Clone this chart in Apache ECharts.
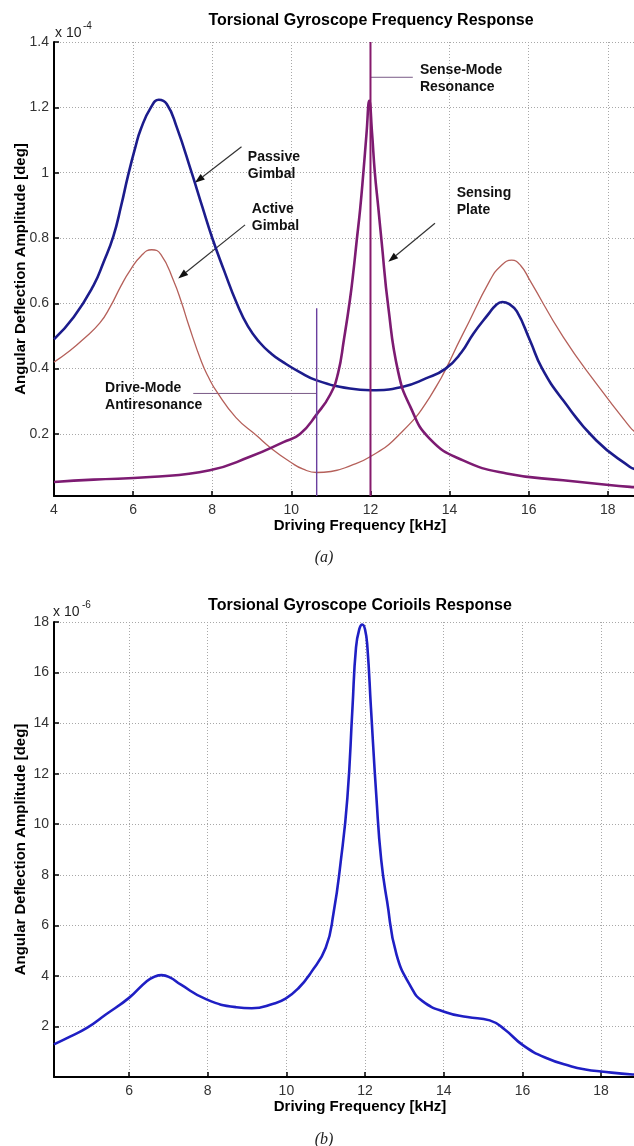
<!DOCTYPE html>
<html>
<head>
<meta charset="utf-8">
<script src="https://cdn.jsdelivr.net/npm/echarts@6/dist/echarts.min.js"></script>
<style>
  html, body { margin: 0; padding: 0; background: #fff; }
  #chart { width: 634px; height: 1146px; }
</style>
</head>
<body>
<div id="chart"></div>
<script>
// ---- data (a): amplitude in units of 1e-4 deg, frequency in kHz
const passiveFreq = [4.0, 4.5, 5.0, 5.25, 5.5, 5.7, 5.87, 6.05, 6.2, 6.45, 6.65, 6.85, 7.1, 7.48, 7.75, 8.0, 8.3, 8.62, 8.9, 9.2, 9.5, 9.79, 10.2, 10.64, 11.48, 12.0, 12.8, 13.4, 13.9, 14.3, 14.6, 15.0, 15.15, 15.33, 15.5, 15.7, 16.03, 16.34, 16.87, 17.71, 18.56, 18.7];
const passiveAmp  = [0.49, 0.558, 0.655, 0.725, 0.805, 0.90, 0.99, 1.075, 1.135, 1.2, 1.223, 1.21, 1.14, 1.0, 0.895, 0.8, 0.70, 0.6, 0.53, 0.48, 0.445, 0.42, 0.39, 0.364, 0.339, 0.334, 0.344, 0.37, 0.40, 0.45, 0.507, 0.57, 0.592, 0.604, 0.598, 0.575, 0.487, 0.40, 0.303, 0.18, 0.099, 0.092];

const activeFreq = [4.0, 4.4, 4.74, 5.16, 5.42, 5.7, 5.92, 6.2, 6.47, 6.7, 7.02, 7.23, 7.4, 7.73, 7.9, 8.11, 8.6, 9.12, 9.5, 10.0, 10.3, 10.64, 11.0, 11.5, 11.99, 12.66, 13.5, 14.34, 15.02, 15.3, 15.57, 15.8, 16.03, 16.87, 17.71, 18.56, 18.7];
const activeAmp  = [0.42, 0.455, 0.49, 0.54, 0.589, 0.655, 0.70, 0.745, 0.764, 0.75, 0.67, 0.60, 0.535, 0.42, 0.375, 0.33, 0.25, 0.195, 0.155, 0.112, 0.092, 0.082, 0.085, 0.103, 0.13, 0.19, 0.313, 0.507, 0.67, 0.715, 0.732, 0.715, 0.67, 0.497, 0.354, 0.221, 0.205];

const plateFreq = [4.0, 5.0, 6.43, 7.94, 8.95, 9.8, 10.22, 10.64, 10.98, 11.18, 11.33, 11.48, 11.58, 11.65, 11.74, 11.82, 11.9, 11.97, 12.04, 12.11, 12.2, 12.28, 12.45, 12.7, 13.0, 13.5, 14.34, 15.44, 16.87, 18.56, 18.7];
const plateAmp  = [0.053, 0.06, 0.068, 0.089, 0.13, 0.175, 0.2, 0.26, 0.32, 0.386, 0.49, 0.61, 0.71, 0.79, 0.89, 1.0, 1.12, 1.22, 1.12, 1.0, 0.89, 0.79, 0.589, 0.39, 0.285, 0.185, 0.119, 0.079, 0.058, 0.038, 0.037];

// resonance markers (kHz) and their heights
const senseResFreq = 12.0;
const driveAntiFreq = 10.64;
const driveAntiTop = 0.585;

// ---- data (b): amplitude in units of 1e-6 deg
const corFreq = [4.09, 4.5, 4.94, 5.41, 6.0, 6.45, 6.65, 6.83, 7.05, 7.31, 7.97, 8.73, 9.12, 9.67, 9.98, 10.3, 10.62, 11.0, 11.2, 11.38, 11.55, 11.68, 11.77, 11.86, 11.93, 12.0, 12.06, 12.15, 12.29, 12.41, 12.56, 12.8, 13.18, 13.46, 14.03, 14.6, 15.17, 15.55, 16.02, 16.59, 17.25, 17.6, 18.0, 18.8, 19.0];
const corAmp  = [1.29, 1.6, 1.95, 2.47, 3.13, 3.79, 3.97, 4.03, 3.93, 3.66, 3.07, 2.76, 2.72, 2.9, 3.1, 3.5, 4.12, 5.11, 6.5, 8.5, 11.03, 14.6, 17.0, 17.75, 17.9, 17.7, 17.0, 14.6, 11.03, 8.6, 6.95, 4.84, 3.53, 3.0, 2.57, 2.37, 2.24, 1.88, 1.25, 0.76, 0.42, 0.3, 0.22, 0.1, 0.09];

const FONT = '"Liberation Sans", Arial, Helvetica, sans-serif';
const SERIF = '"Liberation Serif", "DejaVu Serif", serif';

const pair = (xs, ys) => xs.map((x, i) => [x, ys[i]]);

const chart = echarts.init(document.getElementById('chart'));

const splitLine = { show: true, lineStyle: { color: '#a8a8a8', type: [1, 2], width: 1 } };
const axisLine = { show: true, onZero: false, lineStyle: { color: '#000', width: 2 } };
const axisTick = { show: true, inside: true, length: 5, lineStyle: { color: '#000', width: 1.5 } };
const nameStyle = { fontSize: 15, fontWeight: 'bold', fontFamily: FONT, color: '#000' };
const labelStyle = { color: '#333', fontSize: 14, fontFamily: FONT };

function xAxisFor(gridIndex, extra) {
  return Object.assign({
    gridIndex, type: 'value',
    name: 'Driving Frequency [kHz]', nameLocation: 'middle', nameGap: 22, nameMoveOverlap: false,
    nameTextStyle: nameStyle,
    axisLine, axisTick, splitLine,
    axisLabel: Object.assign({ margin: 7, showMaxLabel: false }, labelStyle)
  }, extra);
}
function yAxisFor(gridIndex, extra) {
  return Object.assign({
    gridIndex, type: 'value',
    name: 'Angular Deflection Amplitude [deg]', nameLocation: 'middle', nameGap: 26, nameMoveOverlap: false,
    nameRotate: 90, nameTextStyle: nameStyle,
    axisLine, axisTick, splitLine,
    axisLabel: Object.assign({ margin: 5, showMinLabel: false }, labelStyle)
  }, extra);
}

// smooth curve style shared by the response lines
const curve = (color, width) => ({
  type: 'line', smooth: 0.5, showSymbol: false,
  lineStyle: { color, width }
});

const options = {
  animation: false,
  backgroundColor: '#fff',
  title: [
    { text: 'Torsional Gyroscope Frequency Response', left: 371, top: 13, padding: 0, textAlign: 'center',
      textStyle: { fontSize: 16, fontWeight: 'bold', fontFamily: FONT, color: '#000' } },
    { text: 'Torsional Gyroscope Corioils Response', left: 360, top: 598, padding: 0, textAlign: 'center',
      textStyle: { fontSize: 16, fontWeight: 'bold', fontFamily: FONT, color: '#000' } }
  ],
  grid: [
    { left: 54, right: -32, top: 42, height: 454, containLabel: false, outerBoundsMode: 'none' },
    { left: 54, right: -32, top: 622, height: 455, containLabel: false, outerBoundsMode: 'none' }
  ],
  xAxis: [
    xAxisFor(0, { min: 4, max: 19.47, interval: 2 }),
    xAxisFor(1, { min: 4.093, max: 19.65, splitNumber: 8, axisLabel: Object.assign({ margin: 7, showMinLabel: false, showMaxLabel: false }, labelStyle) })
  ],
  yAxis: [
    yAxisFor(0, { min: 0.01, max: 1.4, splitNumber: 7 }),
    yAxisFor(1, { min: 0, max: 18, interval: 2 })
  ],
  series: [
    Object.assign(curve('#b5605a', 1.3), { name: 'Active Gimbal', xAxisIndex: 0, yAxisIndex: 0, data: pair(activeFreq, activeAmp) }),
    Object.assign(curve('#1c1c8c', 2.6), { name: 'Passive Gimbal', xAxisIndex: 0, yAxisIndex: 0, data: pair(passiveFreq, passiveAmp) }),
    Object.assign(curve('#7d1b72', 2.6), { name: 'Sensing Plate', xAxisIndex: 0, yAxisIndex: 0, data: pair(plateFreq, plateAmp) }),
    { name: 'Drive-Mode Antiresonance', type: 'line', xAxisIndex: 0, yAxisIndex: 0,
      data: [[driveAntiFreq, 0.01], [driveAntiFreq, driveAntiTop]],
      showSymbol: false, lineStyle: { color: '#6a3f9e', width: 1.4 } },
    { name: 'Sense-Mode Resonance', type: 'line', xAxisIndex: 0, yAxisIndex: 0,
      data: [[senseResFreq, 0.01], [senseResFreq, 1.4]],
      showSymbol: false, lineStyle: { color: '#861a6c', width: 2 } },
    Object.assign(curve('#1f1fc4', 2.6), { name: 'Coriolis Response', xAxisIndex: 1, yAxisIndex: 1, data: pair(corFreq, corAmp) })
  ]
};

chart.setOption(options);

// ---- annotations, anchored in data coordinates of the top plot
const textNotes = [
  { text: 'Passive\nGimbal', at: [8.9, 1.02] },
  { text: 'Active\nGimbal', at: [9.0, 0.862] },
  { text: 'Sensing\nPlate', at: [14.18, 0.91] },
  { text: 'Sense-Mode\nResonance', at: [13.25, 1.289] },
  { text: 'Drive-Mode\nAntiresonance', at: [5.29, 0.315] }
];
const arrowNotes = [
  { from: [8.74, 1.079], to: [7.56, 0.969] },
  { from: [8.83, 0.840], to: [7.14, 0.676] },
  { from: [13.63, 0.845], to: [12.45, 0.727] }
];
const leaderNotes = [
  { from: [senseResFreq, 1.292], to: [13.07, 1.292] },
  { from: [7.52, 0.324], to: [driveAntiFreq, 0.324] }
];

const px = p => chart.convertToPixel({ gridIndex: 0 }, p);

const graphics = [];
textNotes.forEach(n => {
  const p = px(n.at);
  graphics.push({ type: 'text', x: p[0], y: p[1], silent: true,
    style: { text: n.text, fill: '#111', font: 'bold 14px ' + FONT, lineHeight: 17,
      textAlign: 'left', textVerticalAlign: 'middle' } });
});
leaderNotes.forEach(n => {
  const a = px(n.from), b = px(n.to);
  graphics.push({ type: 'line', silent: true, shape: { x1: a[0], y1: a[1], x2: b[0], y2: b[1] },
    style: { stroke: '#7a5a86', lineWidth: 1 } });
});
arrowNotes.forEach(n => {
  const a = px(n.from), b = px(n.to);
  const dx = b[0] - a[0], dy = b[1] - a[1], len = Math.hypot(dx, dy);
  const ux = dx / len, uy = dy / len, hl = 10, hw = 3.5;
  const bx = b[0] - ux * hl, by = b[1] - uy * hl;
  graphics.push({ type: 'line', silent: true, shape: { x1: a[0], y1: a[1], x2: bx, y2: by },
    style: { stroke: '#333', lineWidth: 1.2 } });
  graphics.push({ type: 'polygon', silent: true,
    shape: { points: [[b[0], b[1]], [bx - uy * hw, by + ux * hw], [bx + uy * hw, by - ux * hw]] },
    style: { fill: '#111' } });
});

// exponent markers and panel captions
graphics.push(
  { type: 'text', x: 55, y: 33, style: { text: 'x 10', fill: '#222', font: '14px ' + FONT, textVerticalAlign: 'middle' } },
  { type: 'text', x: 83, y: 26, style: { text: '-4', fill: '#222', font: '10px ' + FONT, textVerticalAlign: 'middle' } },
  { type: 'text', x: 53, y: 612, style: { text: 'x 10', fill: '#222', font: '14px ' + FONT, textVerticalAlign: 'middle' } },
  { type: 'text', x: 82, y: 605, style: { text: '-6', fill: '#222', font: '10px ' + FONT, textVerticalAlign: 'middle' } },
  { type: 'text', x: 324, y: 558, style: { text: '(a)', fill: '#222', font: 'italic 16px ' + SERIF, textAlign: 'center', textVerticalAlign: 'middle' } },
  { type: 'text', x: 324, y: 1140, style: { text: '(b)', fill: '#222', font: 'italic 16px ' + SERIF, textAlign: 'center', textVerticalAlign: 'middle' } }
);

chart.setOption({ graphic: graphics });
</script>
</body>
</html>
